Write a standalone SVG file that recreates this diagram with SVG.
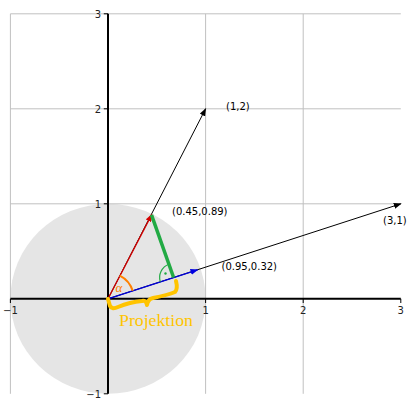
<svg xmlns="http://www.w3.org/2000/svg" width="414" height="407" viewBox="0 0 414 407">
<style>
.grid{stroke:#c0c0c0;stroke-width:1;fill:none}
.axis{stroke:#000;stroke-width:2;fill:none}
.tick{stroke:#000;stroke-width:1}
.tl{font-family:"DejaVu Sans",sans-serif;font-size:10px;fill:#222}
.lab{font-family:"DejaVu Sans",sans-serif;font-size:10px;fill:#000}
</style>
<defs>
<marker id="ak" markerWidth="8" markerHeight="6" refX="7" refY="3" orient="auto" markerUnits="userSpaceOnUse"><path d="M0,0 L8,3 L0,6 Z" fill="#000"/></marker>
<marker id="ar" markerWidth="8" markerHeight="6" refX="7" refY="3" orient="auto" markerUnits="userSpaceOnUse"><path d="M0,0 L8,3 L0,6 Z" fill="#d40000"/></marker>
<marker id="ab" markerWidth="8" markerHeight="6" refX="7" refY="3" orient="auto" markerUnits="userSpaceOnUse"><path d="M0,0 L8,3 L0,6 Z" fill="#0000e0"/></marker>
</defs>
<rect width="414" height="407" fill="#fff"/>
<g id="unit-circle"><ellipse cx="108" cy="298.8" rx="97.6" ry="95" fill="#e5e5e5"/></g>
<g id="grid">
<line class="grid" x1="10.4" y1="13.8" x2="10.4" y2="393.8"/>
<line class="grid" x1="205.6" y1="13.8" x2="205.6" y2="393.8"/>
<line class="grid" x1="303.2" y1="13.8" x2="303.2" y2="393.8"/>
<line class="grid" x1="10.4" y1="13.8" x2="400.8" y2="13.8"/>
<line class="grid" x1="10.4" y1="108.8" x2="400.8" y2="108.8"/>
<line class="grid" x1="10.4" y1="203.8" x2="400.8" y2="203.8"/>
</g>
<g id="axes">
<line class="axis" x1="10.4" y1="298.8" x2="400.8" y2="298.8"/>
<line class="axis" x1="108" y1="13.8" x2="108" y2="393.8"/>
<g class="tick">
<line x1="10.4" y1="298.8" x2="10.4" y2="303"/>
<line x1="205.6" y1="298.8" x2="205.6" y2="303"/>
<line x1="303.2" y1="298.8" x2="303.2" y2="303"/>
<line x1="400.8" y1="298.8" x2="400.8" y2="303"/>
<line x1="103.8" y1="13.8" x2="108" y2="13.8"/>
<line x1="103.8" y1="108.8" x2="108" y2="108.8"/>
<line x1="103.8" y1="203.8" x2="108" y2="203.8"/>
<line x1="103.8" y1="393.8" x2="108" y2="393.8"/>
</g>
<g class="tl" text-anchor="middle">
<text x="10.4" y="313.5">−1</text>
<text x="205.6" y="313.5">1</text>
<text x="303.2" y="313.5">2</text>
<text x="400.8" y="313.5">3</text>
</g>
<g class="tl" text-anchor="end">
<text x="101" y="17.5">3</text>
<text x="101" y="112.5">2</text>
<text x="101" y="207.5">1</text>
<text x="101" y="397.5">−1</text>
</g>
</g>
<g id="connectors">
<line id="v12" x1="108" y1="298.8" x2="205.6" y2="108.8" stroke="#000" stroke-width="1" marker-end="url(#ak)"/>
<line id="v31" x1="108" y1="298.8" x2="400.8" y2="203.8" stroke="#000" stroke-width="1" marker-end="url(#ak)"/>
<line id="vred" x1="108" y1="298.8" x2="151.7" y2="214.6" stroke="#d40000" stroke-width="1.3" marker-end="url(#ar)"/>
<line id="vblue" x1="108" y1="298.8" x2="197.5" y2="269.8" stroke="#0000e0" stroke-width="1.3" marker-end="url(#ab)"/>
<line id="perp" x1="151.5" y1="214.8" x2="173.6" y2="277.5" stroke="#22aa44" stroke-width="3.5"/>
</g>
<g id="angle">
<path d="M132.7,290.8 A26,26 0 0 0 119.8,275.6" fill="none" stroke="#ff8000" stroke-width="2"/>
<text x="119" y="292" font-family="Liberation Serif,serif" font-style="italic" font-size="13" fill="#ff8000" text-anchor="middle">α</text>
</g>
<g id="right-angle">
<path d="M160.3,281.8 A14,14 0 0 1 169,264.3" fill="none" stroke="#22aa44" stroke-width="1.2"/>
<circle cx="165.5" cy="273.5" r="1.2" fill="#22aa44"/>
</g>
<g id="brace">
<path d="M108,299 L110,306 Q112,310 118,307 Q130,302 142,301 Q146,300 147,305 Q148,299 153,298 Q168,295 175,292 Q178,289 176,281" fill="none" stroke="#ffc400" stroke-width="4" stroke-linecap="round" stroke-linejoin="round"/>
<text x="119" y="325.5" font-family="Liberation Serif,serif" font-size="16" fill="#ffc400" textLength="74" lengthAdjust="spacingAndGlyphs">Projektion</text>
</g>
<g id="labels">
<text class="lab" x="226" y="110">(1,2)</text>
<text class="lab" x="383" y="224">(3,1)</text>
<text class="lab" x="221.5" y="269.5">(0.95,0.32)</text>
<text class="lab" x="172" y="215">(0.45,0.89)</text>
</g>
</svg>
